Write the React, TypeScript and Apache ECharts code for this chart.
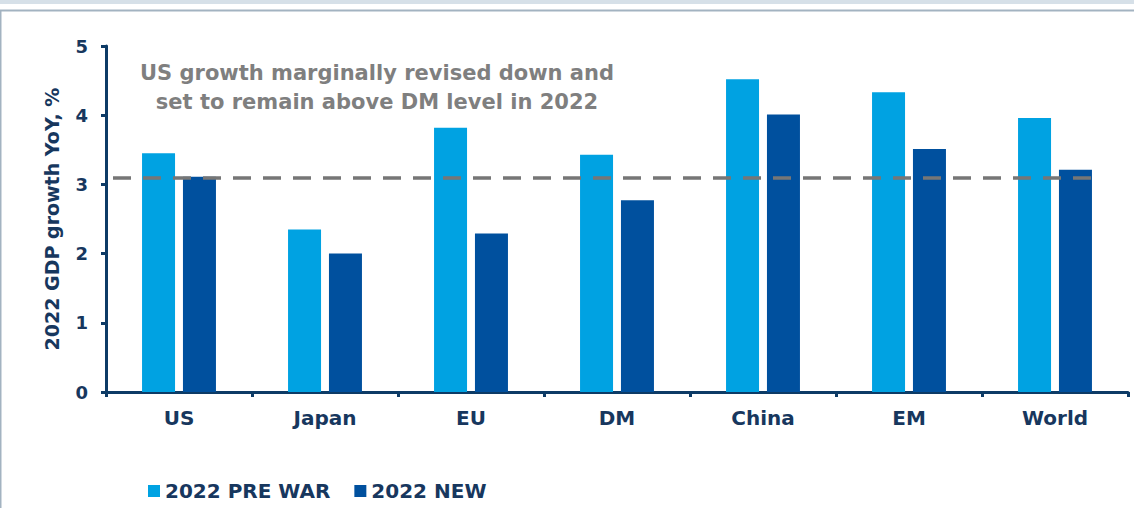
import React, { useEffect, useRef } from "react";
import * as echarts from "echarts";

const categories = ["US", "Japan", "EU", "DM", "China", "EM", "World"];
const preWar = [3.45, 2.35, 3.82, 3.43, 4.52, 4.33, 3.96];
const newForecast = [3.11, 2.0, 2.29, 2.77, 4.01, 3.51, 3.21];
const seriesNames = ["2022 PRE WAR", "2022 NEW"];
const usLevel = 3.1;
const yTicks = { min: 0, max: 5, interval: 1 };
const annotation = ["US growth marginally revised down and", "set to remain above DM level in 2022"];
const yTitle = "2022 GDP growth YoY, %";

const NAVY = "#17375e";
const AXIS = "#0d3b66";
const FONT = "DejaVu Sans";

export default function App() {
  const ref = useRef<HTMLDivElement>(null);
  useEffect(() => {
    if (!ref.current) return;
    const chart = echarts.init(ref.current, null, { renderer: "svg" });
    chart.setOption({
      animation: false,
      backgroundColor: "#ffffff",
      grid: { left: 106, right: 6, top: 46, bottom: 116, containLabel: false },
      legend: {
        left: 143,
        top: 476,
        icon: "rect",
        itemWidth: 12,
        itemHeight: 12,
        itemGap: 24,
        textStyle: { color: NAVY, fontFamily: FONT, fontWeight: "bold", fontSize: 20 },
        data: seriesNames,
      },
      xAxis: {
        type: "category",
        data: categories,
        boundaryGap: true,
        axisLine: { lineStyle: { color: AXIS, width: 3 } },
        axisTick: { show: true, interval: 0, length: 5, lineStyle: { color: AXIS, width: 3 } },
        axisLabel: { color: NAVY, fontFamily: FONT, fontWeight: "bold", fontSize: 20, margin: 16, interval: 0 },
      },
      yAxis: {
        type: "value",
        min: yTicks.min,
        max: yTicks.max,
        interval: yTicks.interval,
        name: yTitle,
        nameLocation: "middle",
        nameGap: 45,
        nameRotate: 90,
        nameTextStyle: { color: NAVY, fontFamily: FONT, fontWeight: "bold", fontSize: 19 },
        axisLine: { show: true, lineStyle: { color: AXIS, width: 3 } },
        axisTick: { show: true, length: 5, lineStyle: { color: AXIS, width: 3 } },
        axisLabel: { color: NAVY, fontFamily: FONT, fontWeight: "bold", fontSize: 18, margin: 18 },
        splitLine: { show: false },
      },
      series: [
        {
          name: seriesNames[0],
          type: "bar",
          data: preWar,
          barWidth: 33,
          barGap: "24%",
          itemStyle: { color: "#00a2e2" },
          markLine: {
            silent: true,
            symbol: "none",
            label: { show: false },
            lineStyle: { color: "#767676", width: 3.5, type: [18, 12] },
            data: [
              [
                { coord: [categories[0], usLevel], x: 113 },
                { coord: [categories[categories.length - 1], usLevel], x: 1091 },
              ],
            ],
          },
        },
        {
          name: seriesNames[1],
          type: "bar",
          data: newForecast,
          barWidth: 33,
          itemStyle: { color: "#00509e" },
        },
      ],
      graphic: [
        { type: "rect", shape: { x: 0, y: 0, width: 1134, height: 4 }, style: { fill: "#d6e0e8" } },
        { type: "line", shape: { x1: 0, y1: 10.5, x2: 1134, y2: 10.5 }, style: { stroke: "#a3b3c1", lineWidth: 2 } },
        { type: "line", shape: { x1: 0.5, y1: 10, x2: 0.5, y2: 508 }, style: { stroke: "#a3b3c1", lineWidth: 2 } },
        {
          type: "text",
          x: 377,
          y: 58,
          style: {
            text: annotation.join("\n"),
            fill: "#7f7f7f",
            font: `bold 21px "${FONT}"`,
            align: "center",
            verticalAlign: "top",
            lineHeight: 29,
          },
        },
      ],
    });
    return () => chart.dispose();
  }, []);
  return (
    <div
      ref={ref}
      style={{ position: "fixed", left: 0, top: 0, width: 1134, height: 508, background: "#fff" }}
    />
  );
}
